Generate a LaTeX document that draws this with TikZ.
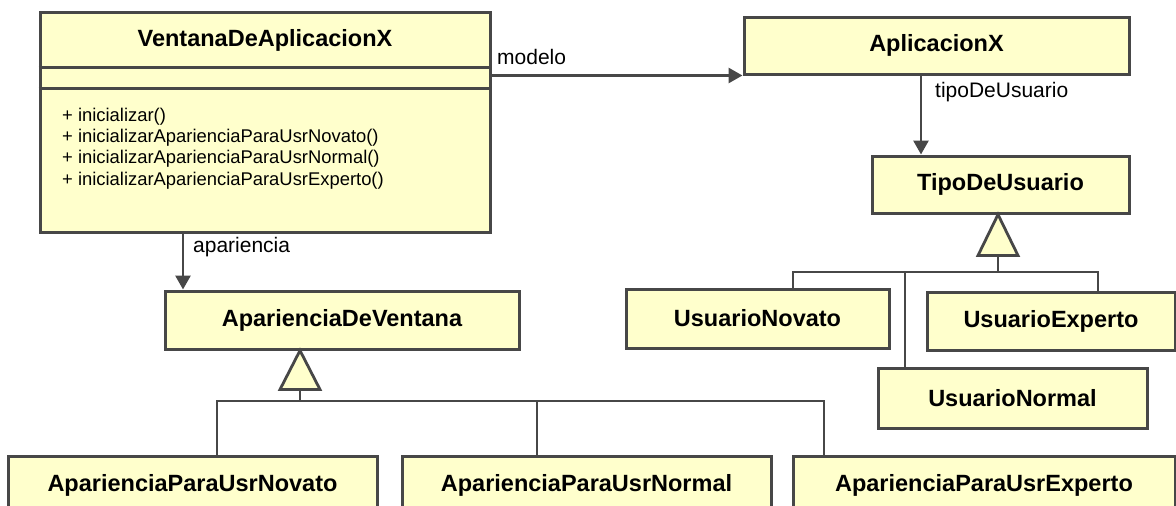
\documentclass[tikz,border=0pt]{standalone}
\usepackage{fontspec}
\setmainfont{Liberation Sans}
\usetikzlibrary{arrows.meta,calc}

\definecolor{umlline}{HTML}{474747}
\definecolor{umlfill}{HTML}{FFFFCC}

\tikzset{
  classbox/.style={draw=umlline, fill=umlfill, line width=3pt, inner sep=0pt,
    text=black, font=\bfseries\fontsize{23.5}{26}\selectfont},
  boxline/.style={draw=umlline, line width=3pt},
  assoc/.style={draw=umlline, line width=2.8pt, -{Triangle[length=14pt,width=15pt]}},
  gen/.style={draw=umlline, line width=2.8pt},
  genhead/.style={draw=umlline, fill=umlfill, line width=2.8pt, line join=miter},
  rolelabel/.style={font=\fontsize{21}{24}\selectfont, inner sep=0pt, anchor=base west, text=black},
  opline/.style={font=\fontsize{18.4}{21}\selectfont, inner sep=0pt, anchor=base west, text=black},
}

\begin{document}
\begin{tikzpicture}[x=1pt, y=-1pt]
  \clip (0,0) rectangle (1176,506);
  \fill[white] (0,0) rectangle (1176,506);

  % classes
  \node[classbox, minimum width=450pt, minimum height=220pt] (ventana) at (265,122) {};
  \node[font=\bfseries\fontsize{23.5}{26}\selectfont, inner sep=0pt] (ventanaTitle) at (265,40) {VentanaDeAplicacionX};
  \draw[boxline] (ventana.west |- 0,67) -- (ventana.east |- 0,67);
  \draw[boxline] (ventana.west |- 0,88) -- (ventana.east |- 0,88);
  \node[opline] (op1) at (62,121)   {+ inicializar()};
  \node[opline] (op2) at (62,142.3) {+ inicializarAparienciaParaUsrNovato()};
  \node[opline] (op3) at (62,163.6) {+ inicializarAparienciaParaUsrNormal()};
  \node[opline] (op4) at (62,185)   {+ inicializarAparienciaParaUsrExperto()};

  \node[classbox, minimum width=385pt, minimum height=57pt] (aplic) at (936.5,45.5) {AplicacionX};
  \node[classbox, minimum width=257pt, minimum height=57pt] (tipo) at (1000.5,184.5) {TipoDeUsuario};
  \node[classbox, minimum width=263pt, minimum height=59pt] (unov) at (757.5,318.5) {UsuarioNovato};
  \node[classbox, minimum width=248pt, minimum height=58pt] (uexp) at (1051,321) {UsuarioExperto};
  \node[classbox, minimum width=269pt, minimum height=60pt] (unor) at (1012.5,398) {UsuarioNormal};

  \node[classbox, minimum width=354pt, minimum height=58pt] (apvent) at (342,320) {AparienciaDeVentana};
  \node[classbox, minimum width=369pt, minimum height=58pt] (apnov) at (192.5,485) {AparienciaParaUsrNovato};
  \node[classbox, minimum width=369pt, minimum height=58pt] (apnor) at (586.5,485) {AparienciaParaUsrNormal};
  \node[classbox, minimum width=382pt, minimum height=58pt] (apexp) at (984,485) {AparienciaParaUsrExperto};

  % associations
  \draw[assoc] (ventana.east |- aplic.south) -- (aplic.south west);
  \node[rolelabel] (lblModelo) at (497,64) {modelo};

  \draw[assoc] (aplic.south -| 921,0) -- (tipo.north -| 921,0);
  \node[rolelabel] (lblTipo) at (935,97) {tipoDeUsuario};

  \draw[assoc] (ventana.south -| 183,0) -- (apvent.north -| 183,0);
  \node[rolelabel] (lblApar) at (193,252) {apariencia};

  % generalization: user types
  \coordinate (tApex) at (tipo.south -| 998,0);
  \coordinate (tJoin) at (998,272);
  \draw[gen] (unov.north -| 793,0) |- (tJoin) -| (uexp.north -| 1098,0);
  \draw[gen] (tJoin -| 905,0) -- (unor.north -| 905,0);
  \draw[gen] (tJoin) -- ($(tApex)+(0,41)$);
  \draw[genhead] (tApex) -- ++(-20,41) -- ++(40,0) -- cycle;

  % generalization: window appearances
  \coordinate (aApex) at (apvent.south -| 300,0);
  \coordinate (aJoin) at (300,401);
  \draw[gen] (apnov.north -| 217,0) |- (aJoin) -| (apexp.north -| 824,0);
  \draw[gen] (aJoin -| 537,0) -- (apnor.north -| 537,0);
  \draw[gen] (aJoin) -- ($(aApex)+(0,39)$);
  \draw[genhead] (aApex) -- ++(-20,39) -- ++(40,0) -- cycle;
\end{tikzpicture}
\end{document}
